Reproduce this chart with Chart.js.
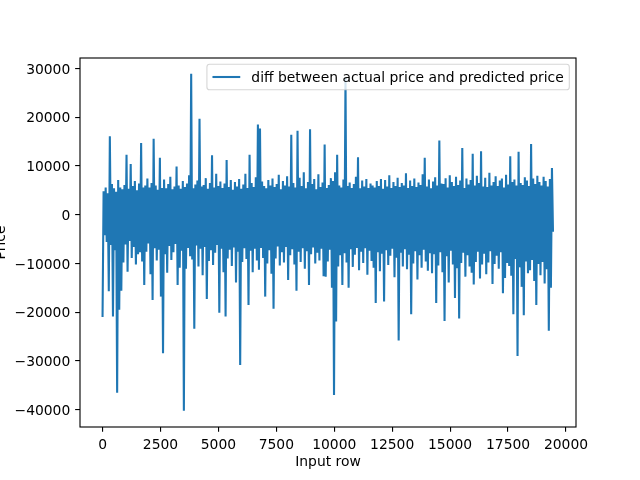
<!DOCTYPE html>
<html>
<head>
<meta charset="utf-8">
<script src="https://cdn.jsdelivr.net/npm/chart.js@4/dist/chart.umd.min.js"></script>
<style>
  html, body { margin: 0; padding: 0; background: #fff; }
  #wrap { width: 640px; height: 480px; }
</style>
</head>
<body>
<div id="wrap"><canvas id="diffChart" width="640" height="480"></canvas></div>
<script>
// --- data (one sample every ~45 input rows) ---
const seriesLabel = 'diff between actual price and predicted price';
const xTitle = 'Input row';
const yTitle = 'Price';
const xTicks = [0, 2500, 5000, 7500, 10000, 12500, 15000, 17500, 20000];
const yTicks = [-40000, -30000, -20000, -10000, 0, 10000, 20000, 30000];

const rows = [
    0,45,90,135,180,225,270,315,360,405,
    450,495,540,585,630,675,720,765,810,855,
    900,945,990,1035,1080,1125,1170,1215,1260,1305,
    1350,1395,1440,1485,1530,1575,1620,1665,1710,1755,
    1800,1845,1890,1935,1980,2025,2070,2115,2160,2205,
    2250,2295,2340,2385,2430,2475,2520,2565,2610,2655,
    2700,2745,2790,2835,2880,2925,2970,3015,3060,3105,
    3150,3195,3240,3285,3330,3375,3420,3465,3510,3555,
    3600,3645,3690,3735,3780,3825,3870,3915,3960,4005,
    4050,4095,4140,4185,4230,4275,4320,4365,4410,4455,
    4500,4545,4590,4635,4680,4725,4770,4815,4860,4905,
    4950,4995,5040,5085,5130,5175,5220,5265,5310,5355,
    5400,5445,5490,5535,5580,5625,5670,5715,5760,5805,
    5850,5895,5940,5985,6030,6075,6120,6165,6210,6255,
    6300,6345,6390,6435,6480,6525,6570,6615,6660,6705,
    6750,6795,6840,6885,6930,6975,7020,7065,7110,7155,
    7200,7245,7290,7335,7380,7425,7470,7515,7560,7605,
    7650,7695,7740,7785,7830,7875,7920,7965,8010,8055,
    8100,8145,8190,8235,8280,8325,8370,8415,8460,8505,
    8550,8595,8640,8685,8730,8775,8820,8865,8910,8955,
    9000,9045,9090,9135,9180,9225,9270,9315,9360,9405,
    9450,9495,9540,9585,9630,9675,9720,9765,9810,9855,
    9900,9945,9990,10035,10080,10125,10170,10215,10260,10305,
    10350,10395,10440,10485,10530,10575,10620,10665,10710,10755,
    10800,10845,10890,10935,10980,11025,11070,11115,11160,11205,
    11250,11295,11340,11385,11430,11475,11520,11565,11610,11655,
    11700,11745,11790,11835,11880,11925,11970,12015,12060,12105,
    12150,12195,12240,12285,12330,12375,12420,12465,12510,12555,
    12600,12645,12690,12735,12780,12825,12870,12915,12960,13005,
    13050,13095,13140,13185,13230,13275,13320,13365,13410,13455,
    13500,13545,13590,13635,13680,13725,13770,13815,13860,13905,
    13950,13995,14040,14085,14130,14175,14220,14265,14310,14355,
    14400,14445,14490,14535,14580,14625,14670,14715,14760,14805,
    14850,14895,14940,14985,15030,15075,15120,15165,15210,15255,
    15300,15345,15390,15435,15480,15525,15570,15615,15660,15705,
    15750,15795,15840,15885,15930,15975,16020,16065,16110,16155,
    16200,16245,16290,16335,16380,16425,16470,16515,16560,16605,
    16650,16695,16740,16785,16830,16875,16920,16965,17010,17055,
    17100,17145,17190,17235,17280,17325,17370,17415,17460,17505,
    17550,17595,17640,17685,17730,17775,17820,17865,17910,17955,
    18000,18045,18090,18135,18180,18225,18270,18315,18360,18405,
    18450,18495,18540,18585,18630,18675,18720,18765,18810,18855,
    18900,18945,18990,19035,19080,19125,19170,19215,19260,19305,
    19350,19395,19440
];

const diff = [
    -21000, 4800, -4200, 5600, -5600, 4400, -15700, 16100, -6200, 6300,
    -20900, 5400, -7300, 4700, -36500, 7100, -19500, 5600, -15600, 5200,
    -9800, 6100, -6100, 12300, -11700, 5300, -5400, 10400, -8900, 5900,
    -6600, 6900, -10200, 5000, -8100, 6400, -7700, 14700, -9600, 5600,
    -14400, 6000, -7600, 7400, -5900, 5600, -12200, 6500, -17500, 15600,
    -6900, 6000, -9400, 5100, -7200, 11700, -16800, 5500, -28400, 7200,
    -8100, 5400, -11900, 6300, -6400, 7800, -9300, 5200, -7700, 5800,
    -6000, 9900, -14400, 6000, -10900, 5300, -7400, 6900, -40200, 5700,
    -11100, 6400, -6800, 8100, -8500, 28900, -9200, 5400, -23400, 6200,
    -6300, 7000, -10600, 19700, -7000, 5800, -12400, 6100, -6600, 7500,
    -17300, 5300, -9500, 6500, -7300, 12200, -10300, 5600, -7800, 8400,
    -6200, 5900, -20100, 6800, -7000, 5500, -11800, 6400, -20900, 11200,
    -9000, 5700, -7200, 7100, -10500, 5100, -6700, 6700, -13900, 5800,
    -7600, 7300, -30800, 5300, -9700, 6200, -6900, 8400, -9100, 5500,
    -18500, 12300, -7400, 6500, -11800, 5700, -7000, 7700, -9400, 18500,
    -11300, 17700, -6800, 6800, -8900, 5900, -16800, 5400, -10000, 7100,
    -7300, 6000, -12100, 7400, -19300, 5700, -9000, 6300, -6500, 8200,
    -10400, 5200, -7700, 6900, -9800, 6000, -6600, 7900, -13400, 5800,
    -8300, 16400, -7100, 6500, -10200, 5600, -15600, 17200, -7600, 7600,
    -9700, 5900, -6900, 8700, -11100, 5400, -7500, 6700, -14400, 17500,
    -8100, 6300, -6700, 7300, -10000, 5200, -7800, 8300, -9400, 5700,
    -7000, 6600, -12600, 14400, -12700, 5500, -9600, 6100, -7200, 7500,
    -15000, 6900, -37000, 8700, -21900, 12300, -10600, 6000, -8300, 5600,
    -14400, 7200, -7900, 28100, -9800, 5900, -15000, 6600, -7100, 5500,
    -10700, 6300, -8200, 7800, -6800, 11800, -11400, 5400, -7600, 7000,
    -9900, 5800, -6900, 7300, -12300, 5500, -7400, 6400, -9500, 6000,
    -10900, 5600, -18100, 6900, -7700, 5900, -11600, 7300, -8000, 5300,
    -17800, 7100, -7300, 5800, -10300, 8100, -8400, 5500, -7000, 6700,
    -12800, 5900, -8800, 7600, -25800, 5700, -7800, 6500, -10600, 6000,
    -7100, 8500, -11200, 5500, -8200, 7000, -20400, 5900, -10000, 7400,
    -7500, 5700, -13300, 6600, -8300, 6100, -10900, 8300, -7200, 11700,
    -9600, 5800, -11500, 7200, -7900, 5400, -12000, 6800, -8100, 7700,
    -18100, 6000, -10400, 15200, -7700, 6400, -11800, 6300, -21800, 7500,
    -8500, 5600, -13900, 8100, -7400, 6700, -10200, 5900, -17100, 7800,
    -11000, 6100, -21300, 7000, -9900, 13700, -7800, 5500, -12700, 7400,
    -8300, 6200, -10600, 7100, -11900, 12500, -14300, 6000, -9700, 8000,
    -7600, 6500, -13100, 13000, -10200, 5800, -8000, 7600, -12200, 5700,
    -9800, 8600, -7500, 6000, -14200, 6700, -10100, 7900, -8400, 5900,
    -11100, 7000, -7700, 7400, -16100, 5600, -13000, 8200, -9900, 6200,
    -10500, 12000, -12500, 6700, -20400, 7200, -9100, 6000, -29000, 12900,
    -10800, 6500, -14800, 6100, -20600, 7700, -9600, 7000, -12000, 5900,
    -11400, 14500, -9300, 7400, -13600, 6300, -18500, 8000, -10100, 6700,
    -12400, 6000, -9700, 7800, -14100, 6900, -11200, 5800, -23800, 7300,
    -15000, 9600, -3500
];

// axis limits with matplotlib-like 5% margins
const xMin = -973, xMax = 20433;
const yMin = -43540, yMax = 32140;

const PT = 100 / 72;          // points -> pixels at 100 dpi
const fontPx = 10 * PT;
const lineBlue = '#1f77b4';
const fontFamily = '"DejaVu Sans", sans-serif';

const points = rows.map((r, i) => ({ x: r, y: diff[i] }));

function fmt(v) {
    return String(v).replace('-', '\u2212');
}

// frame + in-axes legend, drawn over the data like matplotlib
const framePlugin = {
    id: 'framePlugin',
    afterDatasetsDraw(chart) {
        const { ctx, chartArea: a } = chart;
        ctx.save();

        // legend box (upper right)
        ctx.font = fontPx + 'px ' + fontFamily;
        const textW = ctx.measureText(seriesLabel).width;
        const pad = 0.4 * fontPx;
        const handle = 2.0 * fontPx;
        const gap = 0.8 * fontPx;
        const boxW = pad + handle + gap + textW + pad;
        const boxH = 25.4;
        const right = a.right - 6.7;
        const left = right - boxW;
        const top = a.top + 6.3;
        const r = 2.8;
        ctx.beginPath();
        ctx.moveTo(left + r, top);
        ctx.arcTo(right, top, right, top + boxH, r);
        ctx.arcTo(right, top + boxH, left, top + boxH, r);
        ctx.arcTo(left, top + boxH, left, top, r);
        ctx.arcTo(left, top, right, top, r);
        ctx.closePath();
        ctx.fillStyle = 'rgba(255,255,255,0.8)';
        ctx.fill();
        ctx.strokeStyle = 'rgba(204,204,204,0.8)';
        ctx.lineWidth = 1.1;
        ctx.stroke();

        const midY = top + boxH / 2;
        ctx.beginPath();
        ctx.moveTo(left + pad, midY);
        ctx.lineTo(left + pad + handle, midY);
        ctx.strokeStyle = lineBlue;
        ctx.lineWidth = 1.5 * PT;
        ctx.stroke();

        ctx.fillStyle = '#000';
        ctx.textBaseline = 'middle';
        ctx.textAlign = 'left';
        ctx.fillText(seriesLabel, left + pad + handle + gap, midY + 1);

        // axes spines
        ctx.strokeStyle = '#000';
        ctx.lineWidth = 0.8 * PT;
        ctx.strokeRect(a.left, a.top, a.right - a.left, a.bottom - a.top);
        ctx.restore();
    }
};

const tickGrid = {
    drawOnChartArea: false,
    drawTicks: true,
    tickLength: 3.5 * PT,
    color: '#000',
    lineWidth: 0.8 * PT
};

new Chart(document.getElementById('diffChart'), {
    type: 'line',
    data: {
        datasets: [{
            label: seriesLabel,
            data: points,
            borderColor: lineBlue,
            borderWidth: 1.5 * PT,
            pointRadius: 0,
            tension: 0,
            fill: false
        }]
    },
    options: {
        responsive: false,
        animation: false,
        parsing: false,
        normalized: true,
        events: [],
        layout: { padding: { left: 0, top: 58, right: 64, bottom: 0 } },
        plugins: {
            legend: { display: false },
            tooltip: { enabled: false }
        },
        scales: {
            x: {
                type: 'linear',
                min: xMin,
                max: xMax,
                afterFit: s => { s.height = 53; },
                afterBuildTicks: s => { s.ticks = xTicks.map(v => ({ value: v })); },
                border: { display: false },
                grid: tickGrid,
                ticks: {
                    color: '#000',
                    font: { family: fontFamily, size: fontPx },
                    padding: 3.5 * PT,
                    maxRotation: 0,
                    autoSkip: false,
                    callback: v => fmt(v)
                },
                title: {
                    display: true,
                    text: xTitle,
                    color: '#000',
                    font: { family: fontFamily, size: fontPx },
                    padding: { top: 0, bottom: 9 }
                }
            },
            y: {
                type: 'linear',
                min: yMin,
                max: yMax,
                afterFit: s => { s.width = 80; },
                afterBuildTicks: s => { s.ticks = yTicks.map(v => ({ value: v })); },
                border: { display: false },
                grid: tickGrid,
                ticks: {
                    color: '#000',
                    font: { family: fontFamily, size: fontPx },
                    padding: 3.5 * PT,
                    labelOffset: 1.5,
                    autoSkip: false,
                    callback: v => fmt(v)
                },
                title: {
                    display: true,
                    text: yTitle,
                    color: '#000',
                    font: { family: fontFamily, size: fontPx },
                    padding: { top: -6.5, bottom: 0 }
                }
            }
        }
    },
    plugins: [framePlugin]
});
</script>
</body>
</html>
